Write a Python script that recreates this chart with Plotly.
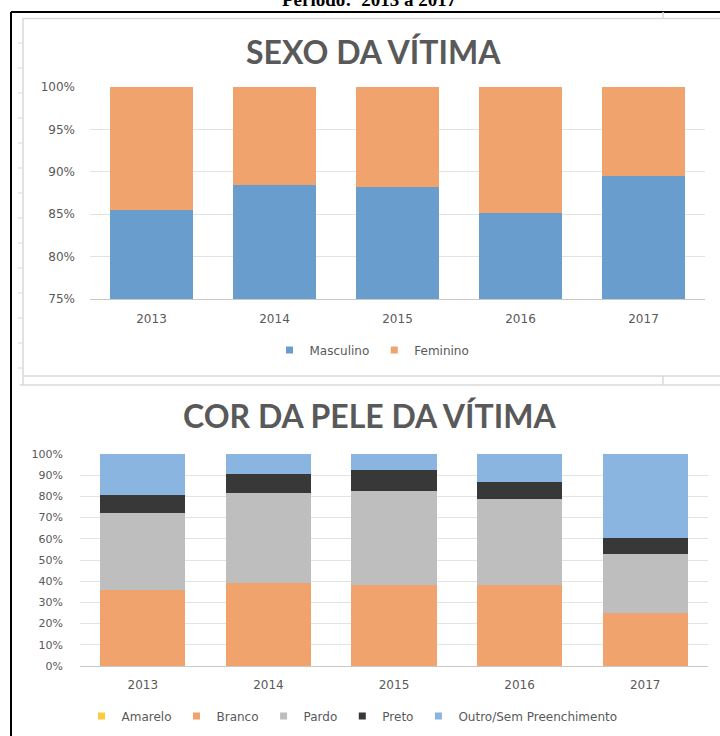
import plotly.graph_objects as go

# ---------------- data ----------------
anos = ["2013", "2014", "2015", "2016", "2017"]

# Sexo da vítima (%)
masculino = [85.5, 88.4, 88.2, 85.2, 89.5]
feminino = [14.5, 11.6, 11.8, 14.8, 10.5]

# Cor da pele da vítima (%)
amarelo = [0.0, 0.0, 0.0, 0.0, 0.0]
branco = [36.0, 39.0, 38.0, 38.0, 25.2]
pardo = [36.0, 42.7, 44.7, 40.6, 27.6]
preto = [8.5, 8.7, 9.6, 8.3, 7.4]
outro = [19.5, 9.6, 7.7, 13.1, 39.8]

sexo_ticks = [75, 80, 85, 90, 95, 100]
sexo_ticklabels = ["75%", "80%", "85%", "90%", "95%", "100%"]
cor_ticks = [0, 10, 20, 30, 40, 50, 60, 70, 80, 90, 100]
cor_ticklabels = ["0%", "10%", "20%", "30%", "40%", "50%", "60%", "70%", "80%", "90%", "100%"]

# ---------------- styling ----------------
W, H = 720, 736
C_MASC = "#699DCD"
C_FEM = "#F0A36D"
C_AMA = "#FFC93C"
C_BRA = "#F0A36D"
C_PAR = "#BEBEBE"
C_PRE = "#393838"
C_OUT = "#8AB5E0"
TXT = "#595959"
GRID = "#E3E3E3"


def px(x):
    return x / W


def py(y):
    return 1 - y / H


fig = go.Figure()

# top chart: sexo
for name, vals, col in [("Masculino", masculino, C_MASC), ("Feminino", feminino, C_FEM)]:
    fig.add_trace(go.Bar(x=anos, y=vals, name=name, marker=dict(color=col, line=dict(width=0)),
                         width=0.667, xaxis="x", yaxis="y", showlegend=False))
    fig.add_trace(go.Scatter(x=[None], y=[None], mode="markers", name=name,
                             marker=dict(symbol="square", size=7, color=col),
                             xaxis="x", yaxis="y", legend="legend"))

# bottom chart: cor da pele
for name, vals, col in [("Amarelo", amarelo, C_AMA), ("Branco", branco, C_BRA),
                        ("Pardo", pardo, C_PAR), ("Preto", preto, C_PRE),
                        ("Outro/Sem Preenchimento", outro, C_OUT)]:
    fig.add_trace(go.Bar(x=anos, y=vals, name=name, marker=dict(color=col, line=dict(width=0)),
                         width=0.677, xaxis="x2", yaxis="y2", showlegend=False))
    fig.add_trace(go.Scatter(x=[None], y=[None], mode="markers", name=name,
                             marker=dict(symbol="square", size=7, color=col),
                             xaxis="x2", yaxis="y2", legend="legend2"))

# ---------------- decorative frame (sheet borders) ----------------
shapes = []
BLACK = dict(color="#000000", width=2)
GRAYL = dict(color="#D9D9D9", width=1.5)
shapes.append(dict(type="line", xref="paper", yref="paper", x0=px(11), x1=px(722), y0=py(12), y1=py(12), line=BLACK))
shapes.append(dict(type="line", xref="paper", yref="paper", x0=px(11), x1=px(11), y0=py(12), y1=py(738), line=BLACK))
shapes.append(dict(type="line", xref="paper", yref="paper", x0=px(23), x1=px(722), y0=py(18.5), y1=py(18.5), line=GRAYL))
shapes.append(dict(type="line", xref="paper", yref="paper", x0=px(23), x1=px(23), y0=py(18), y1=py(385), line=GRAYL))
shapes.append(dict(type="line", xref="paper", yref="paper", x0=px(23), x1=px(722), y0=py(376), y1=py(376), line=GRAYL))
shapes.append(dict(type="line", xref="paper", yref="paper", x0=px(20), x1=px(722), y0=py(385), y1=py(385), line=GRAYL))
shapes.append(dict(type="line", xref="paper", yref="paper", x0=px(663), x1=px(663), y0=py(12), y1=py(18.5), line=GRAYL))
shapes.append(dict(type="line", xref="paper", yref="paper", x0=px(663), x1=px(663), y0=py(376), y1=py(385), line=GRAYL))
for k in range(14):
    yy = 43 + 25 * k
    shapes.append(dict(type="line", xref="paper", yref="paper", x0=px(18), x1=px(23), y0=py(yy), y1=py(yy),
                       line=dict(color="#D9D9D9", width=1)))

annotations = [
    dict(text="<b>Período:  2013 a 2017</b>", xref="paper", yref="paper", x=px(370), y=py(-1),
         xanchor="center", yanchor="middle", showarrow=False,
         font=dict(family="Liberation Serif", size=19, color="#000000")),
    dict(text="<b>SEXO DA VÍTIMA</b>", xref="paper", yref="paper", x=px(373), y=py(51),
         xanchor="center", yanchor="middle", showarrow=False,
         font=dict(family="Lato", size=32, color=TXT)),
    dict(text="<b>COR DA PELE DA VÍTIMA</b>", xref="paper", yref="paper", x=px(370), y=py(415),
         xanchor="center", yanchor="middle", showarrow=False,
         font=dict(family="Lato", size=32, color=TXT)),
]

fig.update_layout(
    width=W, height=H,
    margin=dict(l=0, r=0, t=0, b=0, autoexpand=False),
    paper_bgcolor="white", plot_bgcolor="white",
    barmode="stack",
    shapes=shapes,
    annotations=annotations,
    xaxis=dict(domain=[px(90), px(705)], anchor="y", showgrid=False, showline=True,
               linecolor="#C8C8C8", linewidth=1, ticks="",
               tickfont=dict(family="DejaVu Sans", size=12, color=TXT),
               ticklabelstandoff=9, fixedrange=True),
    yaxis=dict(domain=[py(299), py(87)], anchor="x", range=[75, 100], tickvals=sexo_ticks,
               ticktext=sexo_ticklabels, showgrid=True, gridcolor=GRID, gridwidth=1, zeroline=False,
               showline=False, ticks="", tickfont=dict(family="DejaVu Sans", size=12, color=TXT),
               ticklabelstandoff=14, fixedrange=True),
    xaxis2=dict(domain=[px(80), px(708)], anchor="y2", showgrid=False, showline=True,
                linecolor="#C8C8C8", linewidth=1, ticks="",
                tickfont=dict(family="DejaVu Sans", size=12, color=TXT),
                ticklabelstandoff=8, fixedrange=True),
    yaxis2=dict(domain=[py(666), py(454)], anchor="x2", range=[0, 100], tickvals=cor_ticks,
                ticktext=cor_ticklabels, showgrid=True, gridcolor=GRID, gridwidth=1, zeroline=False,
                showline=False, ticks="", tickfont=dict(family="DejaVu Sans", size=11, color=TXT),
                ticklabelstandoff=16, fixedrange=True),
    legend=dict(orientation="h", x=px(372), y=py(350), xanchor="center", yanchor="middle",
                traceorder="normal",
                font=dict(family="DejaVu Sans", size=12, color=TXT), itemwidth=30,
                bgcolor="rgba(0,0,0,0)"),
    legend2=dict(orientation="h", x=px(352), y=py(716), xanchor="center", yanchor="middle",
                 traceorder="normal",
                 font=dict(family="DejaVu Sans", size=12, color=TXT), itemwidth=30,
                 bgcolor="rgba(0,0,0,0)"),
    showlegend=True,
)

fig.write_html("out.html",
               config=dict(displayModeBar=False),
               post_script="document.body.style.margin='0';document.body.style.overflow='hidden';")
